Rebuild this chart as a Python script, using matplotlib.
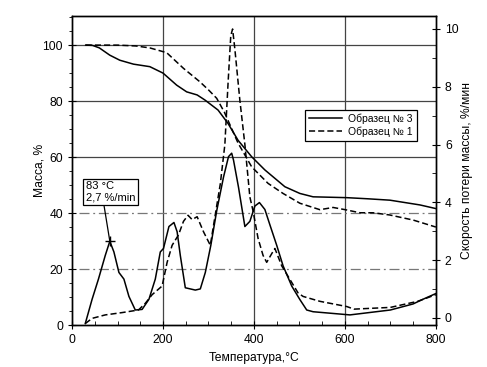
import matplotlib
matplotlib.use('Agg')
import matplotlib.pyplot as plt
from matplotlib.ticker import MultipleLocator

plt.rcParams['font.family'] = ['Liberation Sans', 'DejaVu Sans']

# mass curves (TG), %
t_tg3 = [30, 45, 60, 83, 105, 135, 171, 200, 230, 252, 275, 292, 321, 343, 365,
         395, 424, 468, 501, 530, 604, 650, 699, 765, 800]
tg3 = [100, 99.9, 99, 96.4, 94.6, 93.2, 92.3, 90, 85.7, 83.3, 82.2, 80.4, 76.8, 72, 66,
       60.1, 55.4, 49.4, 47, 45.8, 45.5, 45.1, 44.6, 42.9, 41.6]

t_tg1 = [30, 100, 140, 171, 208, 245, 281, 300, 318, 335, 365, 395, 431, 464, 501,
         545, 574, 604, 633, 662, 699, 750, 800]
tg1 = [100, 100, 99.7, 99, 97.3, 91.7, 86.9, 84, 81, 76, 65, 56.5, 50.6, 47, 43.5,
       41.2, 42, 41.1, 40.1, 40.1, 39.3, 37.5, 35]

# mass loss rate curves (DTG), %/min
t_dtg3 = [29, 44, 58, 73, 83, 92, 103, 114, 125, 139, 154, 169, 183, 194, 201, 213, 224,
          231, 238, 249, 271, 282, 293, 305, 318, 333, 344, 351, 355, 366, 380, 391, 402,
          412, 424, 435, 450, 464, 483, 501, 516, 530, 611, 700, 750, 770, 800]
dtg3 = [-0.2, 0.64, 1.34, 2.16, 2.65, 2.28, 1.57, 1.34, 0.74, 0.27, 0.29, 0.64, 1.34,
        2.28, 2.4, 3.16, 3.3, 2.98, 2.16, 1.04, 0.96, 1.0, 1.57, 2.5, 3.7, 4.87, 5.58,
        5.7, 5.46, 4.52, 3.16, 3.34, 3.87, 3.99, 3.75, 3.22, 2.51, 1.8, 1.1, 0.63, 0.27,
        0.21, 0.1, 0.27, 0.48, 0.63, 0.84]

t_dtg1 = [29, 44, 73, 110, 146, 161, 176, 198, 209, 220, 234, 245, 255, 264, 275, 289,
          304, 315, 326, 336, 343, 349, 353, 358, 369, 380, 391, 398, 409, 420, 428, 439,
          446, 461, 479, 497, 508, 545, 604, 620, 700, 740, 760, 800]
dtg1 = [-0.2, -0.02, 0.1, 0.18, 0.27, 0.5, 0.8, 1.1, 1.92, 2.51, 2.87, 3.34, 3.55, 3.4,
        3.5, 2.98, 2.51, 3.58, 4.64, 6.0, 8.12, 9.77, 10.0, 9.3, 7.53, 6.0, 4.18, 3.7,
        2.75, 2.16, 1.92, 2.22, 2.4, 1.8, 1.33, 0.86, 0.74, 0.57, 0.39, 0.3, 0.36, 0.5,
        0.57, 0.8]

peak_t, peak_v = 83, 2.65
peak_text = '83 \u00b0C\n2,7 %/min'

fig = plt.figure(figsize=(4.87, 3.67), dpi=100)
ax1 = fig.add_axes([0.148, 0.1144, 0.747, 0.842])
ax2 = ax1.twinx()

# grid: solid in the upper part, dash-dot in the lower part
for x in [200, 400, 600]:
    ax1.axvline(x, color='#444444', lw=0.9, zorder=0.5)
for y in [60, 80, 100]:
    ax1.axhline(y, color='#444444', lw=0.9, zorder=0.5)
for y in [20, 40]:
    ax1.axhline(y, xmin=0.02, color='#777777', lw=0.9, zorder=0.5,
                linestyle=(0, (8, 3, 1.5, 3)))

dash = (0, (4, 2))
l3, = ax1.plot(t_tg3, tg3, color='black', lw=1.1)
l1, = ax1.plot(t_tg1, tg1, color='black', lw=1.1, linestyle=dash)
ax2.plot(t_dtg3, dtg3, color='black', lw=1.1)
ax2.plot(t_dtg1, dtg1, color='black', lw=1.1, linestyle=dash)

ax1.set_xlim(0, 800)
ax1.set_ylim(0, 110.4)
ax2.set_ylim(-0.25, 10.45)

ax1.xaxis.set_major_locator(MultipleLocator(200))
ax1.xaxis.set_minor_locator(MultipleLocator(50))
ax1.yaxis.set_major_locator(MultipleLocator(20))
ax1.yaxis.set_minor_locator(MultipleLocator(5))
ax2.yaxis.set_major_locator(MultipleLocator(2))
ax2.yaxis.set_minor_locator(MultipleLocator(1))

ax1.tick_params(axis='x', which='major', direction='inout', length=6, labelsize=8.7)
ax1.tick_params(axis='x', which='minor', direction='in', length=3)
ax1.tick_params(axis='y', which='major', direction='inout', length=6, labelsize=8.7)
ax1.tick_params(axis='y', which='minor', direction='out', length=2.5)
ax2.tick_params(axis='y', which='major', direction='inout', length=6, labelsize=8.7)
ax2.tick_params(axis='y', which='minor', direction='in', length=3)

for ax in (ax1, ax2):
    for s in ax.spines.values():
        s.set_linewidth(1.0)

ax1.set_xlabel('Температура,\u00b0С', fontsize=8.7, labelpad=4)
ax1.set_ylabel('Масса, %', fontsize=8.7, labelpad=-2)
ax2.set_ylabel('Скорость потери массы, %/мин', fontsize=8.7, labelpad=2)

ax2.plot(peak_t, peak_v, marker='+', color='black', ms=7, mew=1)
ax2.annotate(peak_text, xy=(peak_t, peak_v), xytext=(31, 4.72), textcoords='data',
             ha='left', va='top', fontsize=8, linespacing=1.1,
             bbox=dict(boxstyle='square,pad=0.25', fc='white', ec='black', lw=0.9),
             arrowprops=dict(arrowstyle='-', color='black', lw=0.9,
                             relpos=(0.35, 0), shrinkA=0, shrinkB=0))

leg = ax2.legend([l3, l1], ['Образец № 3', 'Образец № 1'], loc='upper right',
                 bbox_to_anchor=(0.947, 0.696), fontsize=7.5, fancybox=False,
                 edgecolor='black', framealpha=1, handlelength=3.2,
                 borderpad=0.35, labelspacing=0.25, handletextpad=0.6,
                 borderaxespad=0)
leg.get_frame().set_linewidth(0.9)

fig.savefig('out.png', dpi=100)
